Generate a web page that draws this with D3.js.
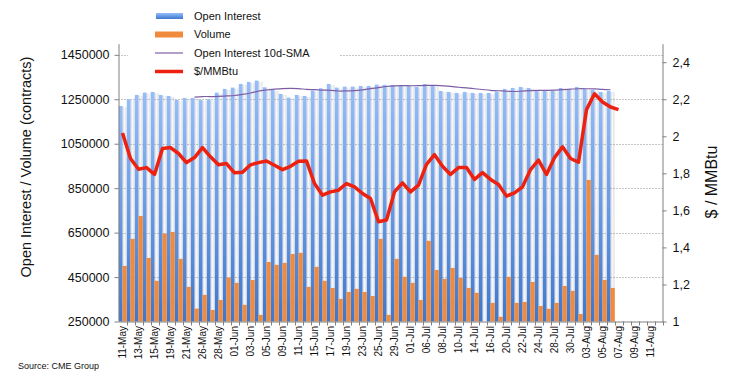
<!DOCTYPE html>
<html>
<head>
<meta charset="utf-8">
<script src="https://cdn.jsdelivr.net/npm/d3@7"></script>
<style>
body { margin: 0; background: #fff; }
svg text { font-family: Arial, "Liberation Sans", sans-serif; fill: #111; }
</style>
</head>
<body>
<div id="chart"></div>
<script>
// categories (trading days, then calendar days after the data ends)
let dates = ["11-May","12-May","13-May","14-May","15-May","18-May","19-May","20-May","21-May","22-May","26-May","27-May","28-May","29-May",
"01-Jun","02-Jun","03-Jun","04-Jun","05-Jun","08-Jun","09-Jun","10-Jun","11-Jun","12-Jun","15-Jun","16-Jun","17-Jun","18-Jun","19-Jun","22-Jun","23-Jun","24-Jun","25-Jun","26-Jun","29-Jun","30-Jun",
"01-Jul","02-Jul","06-Jul","07-Jul","08-Jul","09-Jul","10-Jul","13-Jul","14-Jul","15-Jul","16-Jul","17-Jul","20-Jul","21-Jul","22-Jul","23-Jul","24-Jul","27-Jul","28-Jul","29-Jul","30-Jul","31-Jul",
"03-Aug","04-Aug","05-Aug","06-Aug","07-Aug","08-Aug","09-Aug","10-Aug","11-Aug","12-Aug"];

let openInterest = [1220000,1250000,1269500,1280000,1283000,1269500,1265000,1247000,1256000,1256000,
1247000,1250000,1280000,1296500,1302500,1319000,1328000,1334000,1304000,1292000,
1274000,1257500,1269500,1265000,1289000,1299500,1319000,1302500,1307000,1307000,
1310000,1310000,1316000,1315000,1314500,1313000,1313000,1305500,1319000,1311500,
1287500,1283000,1278500,1283000,1278500,1278500,1278500,1284500,1296500,1301000,
1305500,1301000,1289000,1289000,1289000,1301000,1295000,1305500,1296500,1292000,
1283000,1287500];

let volume = [500000,622000,725000,536000,433000,646000,653000,532000,406000,308000,
370000,302000,347000,448000,424000,325000,437000,280000,518000,505000,
514000,554000,559000,406000,496000,433000,401000,352000,383000,397000,
383000,365000,622000,280000,532000,451000,424000,347000,613000,482000,
442000,491000,446000,401000,379000,null,334000,271000,451000,334000,
338000,428000,320000,307000,334000,410000,388000,284000,887000,550000,
437000,401000];

let sma10 = [null,null,null,null,null,null,null,null,null,1259600,
1262300,1262300,1263400,1265000,1267000,1271900,1278200,1286900,1291700,1295300,
1298000,1298800,1297700,1294600,1293200,1291300,1290400,1287200,1287500,1289000,
1292600,1297900,1302500,1307500,1310100,1311400,1310800,1311100,1312300,1312800,
1310500,1307800,1304100,1300900,1297300,1293800,1290400,1288300,1286000,1285000,
1286800,1288600,1289600,1290200,1291300,1293500,1295200,1297300,1297300,1296400,
1294100,1292800];

let price = [2.018,1.880,1.822,1.831,1.794,1.934,1.939,1.907,1.858,1.885,
1.939,1.889,1.846,1.853,1.803,1.806,1.846,1.858,1.867,1.844,
1.820,1.838,1.865,1.867,1.745,1.682,1.700,1.709,1.745,1.727,
1.691,1.664,1.539,1.548,1.700,1.749,1.700,1.736,1.849,1.901,
1.838,1.794,1.831,1.831,1.767,1.804,1.767,1.740,1.677,1.695,
1.727,1.820,1.871,1.794,1.885,1.943,1.880,1.860,2.144,2.230,
2.185,2.158,2.144];

let leftTicks = [250000,450000,650000,850000,1050000,1250000,1450000];
let rightTicks = [1,1.2,1.4,1.6,1.8,2,2.2,2.4];
let legendNames = ["Open Interest","Volume","Open Interest 10d-SMA","$/MMBtu"];

let width = 729, height = 382;
let plotL = 118.5, plotR = 662.5, plotT = 43.7, plotB = 321.5;

let svg = d3.select('#chart').append('svg')
    .attr('width', width)
    .attr('height', height);

let defs = svg.append('defs');
let blueGrad = defs.append('linearGradient').attr('id','blueGrad')
    .attr('x1',0).attr('y1',0).attr('x2',0).attr('y2',1);
blueGrad.append('stop').attr('offset','0%').attr('stop-color','#95bdf8');
blueGrad.append('stop').attr('offset','100%').attr('stop-color','#3c77cf');

let shadeGrad = defs.append('linearGradient').attr('id','shadeGrad')
    .attr('x1',0).attr('y1',0).attr('x2',1).attr('y2',0);
shadeGrad.append('stop').attr('offset','0%').attr('stop-color','#d6d6d6');
shadeGrad.append('stop').attr('offset','50%').attr('stop-color','#f7f7f7');
shadeGrad.append('stop').attr('offset','100%').attr('stop-color','#dedede');

let xScale = d3.scaleBand().domain(dates).range([plotL, plotR]).padding(0);
let yLeft = d3.scaleLinear().domain([250000, 1500000]).range([plotB, plotT]);
let yRight = d3.scaleLinear().domain([1, 2.5]).range([plotB, plotT]);
let bw = xScale.bandwidth();

// shadows behind the open interest bars
svg.append('g').selectAll('rect').data(openInterest).enter().append('rect')
    .attr('x', (d, i) => xScale(dates[i]) + bw / 2)
    .attr('y', d => yLeft(d) + 1)
    .attr('width', bw / 2)
    .attr('height', d => plotB - yLeft(d) - 1)
    .style('fill', 'url(#shadeGrad)');

// gridlines
svg.append('g').selectAll('line').data(leftTicks.slice(1)).enter().append('line')
    .attr('x1', plotL).attr('x2', plotR)
    .attr('y1', d => Math.round(yLeft(d)) + 0.5)
    .attr('y2', d => Math.round(yLeft(d)) + 0.5)
    .style('stroke', '#8a8a8a')
    .style('stroke-dasharray', '1,2');

// legend background hides the grid under it
svg.append('rect').attr('x', 128).attr('y', 0).attr('width', 212).attr('height', 79).style('fill', '#fff');

svg.append('g').selectAll('rect').data(openInterest).enter().append('rect')
    .attr('x', (d, i) => xScale(dates[i]) + 0.3)
    .attr('y', d => yLeft(d))
    .attr('width', bw / 2 - 0.3)
    .attr('height', d => plotB - yLeft(d))
    .style('fill', 'url(#blueGrad)');

svg.append('g').selectAll('rect').data(volume).enter().append('rect')
    .attr('x', (d, i) => xScale(dates[i]) + bw / 2)
    .attr('y', d => d === null ? plotB : yLeft(d))
    .attr('width', bw / 2 + 0.3)
    .attr('height', d => d === null ? 0 : plotB - yLeft(d))
    .style('fill', '#f08b3d');

let smaLine = d3.line()
    .defined(d => d !== null)
    .x((d, i) => xScale(dates[i]) + bw / 2)
    .y(d => yLeft(d))
    .curve(d3.curveCatmullRom);

svg.append('path').datum(sma10)
    .attr('d', smaLine)
    .style('fill', 'none')
    .style('stroke', '#7d5ea6')
    .style('stroke-width', 1.2);

let priceLine = d3.line()
    .x((d, i) => xScale(dates[i]) + bw / 2)
    .y(d => yRight(d));

svg.append('path').datum(price)
    .attr('d', priceLine)
    .style('fill', 'none')
    .style('stroke', '#ec2110')
    .style('stroke-width', 3.5)
    .style('stroke-linejoin', 'round');

// axes
let axisLeft = svg.append('g').attr('transform', 'translate(' + plotL + ',0)')
    .call(d3.axisLeft(yLeft).tickValues(leftTicks).tickFormat(d3.format('d')).tickSize(4).tickSizeOuter(0));
axisLeft.selectAll('text').style('font-size', '12.5px').attr('x', -9);

let axisRight = svg.append('g').attr('transform', 'translate(' + plotR + ',0)')
    .call(d3.axisRight(yRight).tickValues(rightTicks)
        .tickFormat(d => String(+d.toFixed(1)).replace('.', ','))
        .tickSize(4).tickSizeOuter(0));
axisRight.selectAll('text').style('font-size', '12.5px').attr('x', 10);

let axisBottom = svg.append('g').attr('transform', 'translate(0,' + plotB + ')')
    .call(d3.axisBottom(xScale).tickValues(dates.filter((d, i) => i % 2 === 0)).tickSize(0).tickSizeOuter(0));
axisBottom.selectAll('text')
    .style('font-size', '10px')
    .style('text-anchor', 'end')
    .attr('y', 0).attr('x', -4.5).attr('dy', '0.35em')
    .attr('transform', 'rotate(-90)');

// category boundary ticks
svg.append('g').selectAll('line').data(dates).enter().append('line')
    .attr('x1', d => Math.round(xScale(d) + bw) + 0.5)
    .attr('x2', d => Math.round(xScale(d) + bw) + 0.5)
    .attr('y1', plotB).attr('y2', plotB + 4)
    .style('stroke', '#808080');

svg.selectAll('.domain, .tick line').style('stroke', '#808080');

svg.append('text')
    .text('Open Interest / Volume (contracts)')
    .style('font-size', '14.5px')
    .style('text-anchor', 'middle')
    .attr('transform', 'translate(31,' + 167 + ')rotate(-90)');

svg.append('text')
    .text('$ / MMBtu')
    .style('font-size', '16px')
    .style('text-anchor', 'middle')
    .attr('transform', 'translate(717,' + 182 + ')rotate(-90)');

svg.append('text')
    .text('Source: CME Group')
    .style('font-size', '9px')
    .attr('x', 18).attr('y', 369);

// legend
let legend = svg.append('g');
let rowY = [16, 34.5, 53, 71.5];
legend.append('rect').attr('x', 156).attr('y', rowY[0] - 3).attr('width', 27).attr('height', 6).style('fill', 'url(#blueGrad)');
legend.append('rect').attr('x', 155).attr('y', rowY[1] - 3).attr('width', 28).attr('height', 6).style('fill', '#f08b3d');
legend.append('line').attr('x1', 155).attr('x2', 183).attr('y1', rowY[2]).attr('y2', rowY[2])
    .style('stroke', '#7d5ea6').style('stroke-width', 1.2);
legend.append('line').attr('x1', 155).attr('x2', 183).attr('y1', rowY[3]).attr('y2', rowY[3])
    .style('stroke', '#ec2110').style('stroke-width', 3.5);
legend.selectAll('text.name').data(legendNames).enter().append('text')
    .attr('class', 'name')
    .text(d => d)
    .attr('x', 194)
    .attr('y', (d, i) => rowY[i])
    .attr('dy', '0.35em')
    .style('font-size', '11px');
</script>
</body>
</html>
